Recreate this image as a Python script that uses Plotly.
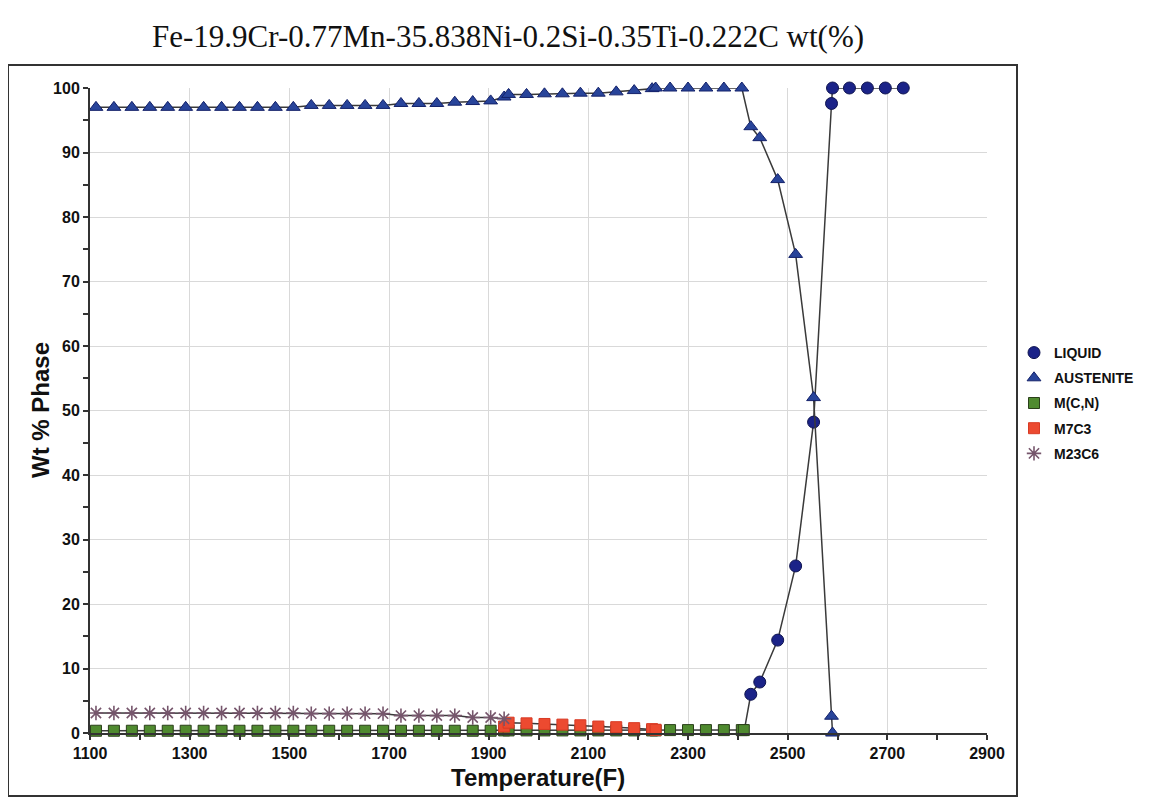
import plotly.graph_objects as go

title_text = "Fe-19.9Cr-0.77Mn-35.838Ni-0.2Si-0.35Ti-0.222C wt(%)"
x_title = "Temperature(F)"
y_title = "Wt % Phase"

# Temperatures (F)
liquid_T = [2412, 2426, 2444, 2480, 2516, 2552, 2588, 2590, 2624, 2660, 2696, 2732]
liquid_v = [0.0, 6.0, 7.9, 14.4, 25.9, 48.2, 97.6, 100.0, 100.0, 100.0, 100.0, 100.0]

aust_T = [1112, 1148, 1184, 1220, 1256, 1292, 1328, 1364, 1400, 1436, 1472, 1508,
          1544, 1580, 1616, 1652, 1688, 1724, 1760, 1796, 1832, 1868, 1904,
          1931, 1940, 1976, 2012, 2048, 2084, 2120, 2156, 2192, 2228, 2235,
          2264, 2300, 2336, 2372, 2408, 2426, 2444, 2480, 2516, 2552, 2588, 2590]
aust_v = [97.0, 97.0, 97.0, 97.0, 97.0, 97.0, 97.0, 97.0, 97.0, 97.0, 97.0, 97.0,
          97.3, 97.3, 97.3, 97.3, 97.3, 97.6, 97.6, 97.6, 97.8, 97.9, 98.0,
          98.6, 99.0, 99.0, 99.1, 99.1, 99.2, 99.2, 99.4, 99.6, 99.9, 100.0,
          100.0, 100.0, 100.0, 100.0, 100.0, 94.0, 92.3, 85.8, 74.2, 52.0, 2.6, 0.0]

mcn_T = [1112, 1148, 1184, 1220, 1256, 1292, 1328, 1364, 1400, 1436, 1472, 1508,
         1544, 1580, 1616, 1652, 1688, 1724, 1760, 1796, 1832, 1868, 1904,
         1931, 1940, 1976, 2012, 2048, 2084, 2120, 2156, 2192, 2228, 2235,
         2264, 2300, 2336, 2372, 2408, 2412]
mcn_v = [0.35, 0.35, 0.35, 0.35, 0.35, 0.35, 0.35, 0.35, 0.35, 0.35, 0.35, 0.35,
         0.35, 0.35, 0.35, 0.35, 0.35, 0.35, 0.35, 0.35, 0.35, 0.35, 0.35,
         0.4, 0.4, 0.4, 0.4, 0.4, 0.4, 0.4, 0.4, 0.4, 0.4, 0.4,
         0.45, 0.45, 0.45, 0.45, 0.45, 0.45]

m7c3_T = [1931, 1940, 1976, 2012, 2048, 2084, 2120, 2156, 2192, 2228, 2235]
m7c3_v = [1.0, 1.6, 1.5, 1.4, 1.3, 1.2, 1.0, 0.9, 0.75, 0.6, 0.5]

m23_T = [1112, 1148, 1184, 1220, 1256, 1292, 1328, 1364, 1400, 1436, 1472, 1508,
         1544, 1580, 1616, 1652, 1688, 1724, 1760, 1796, 1832, 1868, 1904, 1931]
m23_v = [3.1, 3.1, 3.1, 3.1, 3.1, 3.1, 3.1, 3.1, 3.1, 3.1, 3.1, 3.1,
         3.0, 3.0, 3.0, 3.0, 3.0, 2.7, 2.7, 2.7, 2.7, 2.4, 2.4, 2.2]

x_ticks = [1100, 1300, 1500, 1700, 1900, 2100, 2300, 2500, 2700, 2900]
y_ticks = [0, 10, 20, 30, 40, 50, 60, 70, 80, 90, 100]

LINE = dict(color="#3a3a3a", width=1.5)

series = [
    ("LIQUID", liquid_T, liquid_v,
     dict(symbol="circle", size=12, color="#1b2388", opacity=1, line=dict(color="#0f1450", width=1))),
    ("AUSTENITE", aust_T, aust_v,
     dict(symbol="triangle-up", size=12, color="#28449a", opacity=1, line=dict(color="#13216a", width=1))),
    ("M(C,N)", mcn_T, mcn_v,
     dict(symbol="square", size=11, color="#4f8a2f", opacity=1, line=dict(color="#2a3f1a", width=1))),
    ("M7C3", m7c3_T, m7c3_v,
     dict(symbol="square", size=11, color="#ec4a30", opacity=1, line=dict(color="#d83a24", width=1))),
    ("M23C6", m23_T, m23_v,
     dict(symbol="asterisk-open", size=12, color="#76566c", opacity=1, line=dict(color="#76566c", width=1.6))),
]

fig = go.Figure()
for name, xs, ys, mk in series:
    mk_plot = dict(mk)
    if name == "LIQUID":
        # first (solidus) point sits under the M(C,N) square
        mk_plot["size"] = [0] + [mk["size"]] * (len(xs) - 1)
    fig.add_trace(go.Scatter(x=xs, y=ys, name=name, mode="lines+markers", line=LINE,
                             cliponaxis=False, marker=mk_plot, showlegend=False,
                             legendgroup=name))
for name, xs, ys, mk in series:
    fig.add_trace(go.Scatter(x=[None], y=[None], name=name, mode="markers",
                             marker=mk, showlegend=True, legendgroup=name))

# page body has an 8px margin: work in screen pixels and convert
OFF = 8
W, H = 1168, 801
X0, X1 = 90 - OFF, 987 - OFF
Y0, Y1 = 88 - OFF, 733 - OFF
L, R, T, B = X0, W - X1, Y0, H - Y1
pw, ph = X1 - X0, Y1 - Y0

def px(xs):
    return (xs - OFF - L) / pw

def py(ys):
    return (H - B - (ys - OFF)) / ph

BOLD = dict(family="Liberation Sans, Arial, sans-serif", weight="bold", color="#111")

fig.update_layout(
    width=W, height=H, autosize=False,
    margin=dict(l=L, r=R, t=T, b=B, pad=0),
    paper_bgcolor="white", plot_bgcolor="white",
    font=dict(family="Liberation Sans, Arial, sans-serif", color="#111"),
    showlegend=True,
    legend=dict(x=px(1014), y=py(337), xanchor="left", yanchor="top",
                font=dict(size=14, **BOLD), bgcolor="rgba(0,0,0,0)",
                itemwidth=30, tracegroupgap=4),
    xaxis=dict(range=[1100, 2900], tickvals=x_ticks, ticktext=[str(v) for v in x_ticks],
               showgrid=True, gridcolor="#d9d9d9", gridwidth=1,
               showline=True, linecolor="#333", linewidth=2, zeroline=False,
               ticks="outside", ticklen=5, tickwidth=1.5, tickcolor="#333",
               minor=dict(dtick=100, tick0=1100, ticks="outside", ticklen=5, tickcolor="#333", showgrid=False),
               tickfont=dict(size=16, **BOLD)),
    yaxis=dict(range=[0, 100], tickvals=y_ticks, ticktext=[str(v) for v in y_ticks],
               showgrid=True, gridcolor="#d9d9d9", gridwidth=1,
               showline=True, linecolor="#333", linewidth=2, zeroline=False,
               ticks="outside", ticklen=5, tickwidth=1.5, tickcolor="#333",
               minor=dict(dtick=5, tick0=0, ticks="outside", ticklen=5, tickcolor="#333", showgrid=False),
               tickfont=dict(size=16, **BOLD)),
    annotations=[
        dict(text=title_text, xref="paper", yref="paper", x=px(508), y=py(37),
             xanchor="center", yanchor="middle", showarrow=False,
             font=dict(family="Liberation Serif, Times New Roman, serif", size=31, color="#111")),
        dict(text=x_title, xref="paper", yref="paper", x=px(538), y=py(778),
             xanchor="center", yanchor="middle", showarrow=False, font=dict(size=24, **BOLD)),
        dict(text=y_title, xref="paper", yref="paper", x=px(40), y=py(410),
             xanchor="center", yanchor="middle", showarrow=False, textangle=-90,
             font=dict(size=24, **BOLD)),
    ],
)

fig.add_shape(type="rect", xref="paper", yref="paper",
              x0=px(8), x1=px(1017), y0=py(796), y1=py(65),
              line=dict(color="#333", width=2), fillcolor="rgba(0,0,0,0)", layer="below")

fig.write_html("out.html")
